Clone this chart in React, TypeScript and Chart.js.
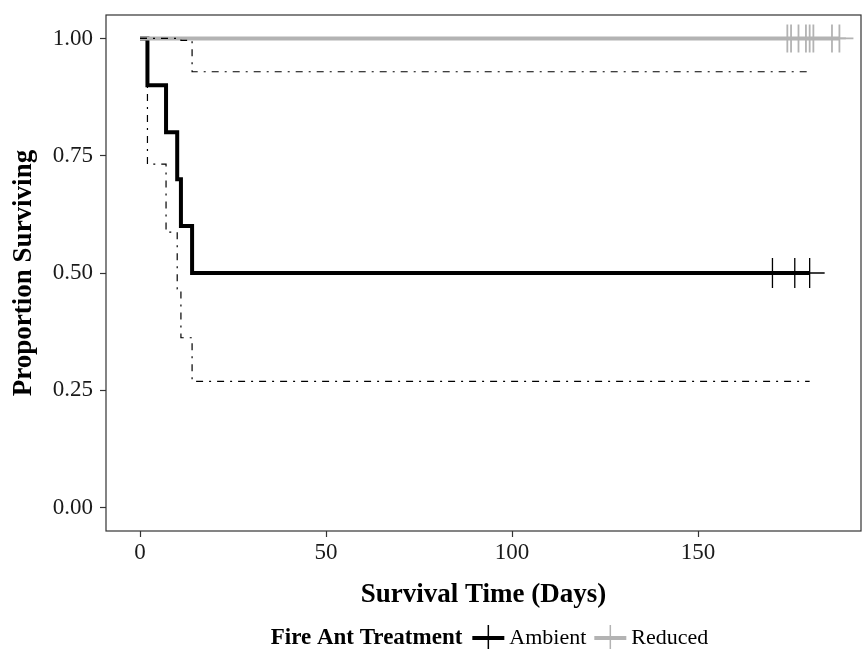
import React, { useEffect, useRef } from "react";
import { Chart, registerables } from "chart.js";

Chart.register(...registerables);

// ---- data ----
const xTicks = [0, 50, 100, 150];
const yTicks = [0, 0.25, 0.5, 0.75, 1];

const ambientTimes = [0, 2, 7, 10, 11, 14, 180];
const ambientSurv = [1, 0.9, 0.8, 0.7, 0.6, 0.5, 0.5];
const ambientUpper = [1, 1, 1, 1, 0.996, 0.929, 0.929];
const ambientLower = [1, 0.732, 0.587, 0.466, 0.362, 0.269, 0.269];
const ambientCensorTimes = [170, 176, 180];
const ambientCensorSurv = [0.5, 0.5, 0.5];

const reducedTimes = [0, 188];
const reducedSurv = [1, 1];
const reducedCensorTimes = [174, 175, 177, 179, 180, 181, 186, 188];
const reducedCensorSurv = [1, 1, 1, 1, 1, 1, 1, 1];

const legendTitle = "Fire Ant Treatment";
const groupNames = ["Ambient", "Reduced"];
const groupColors = ["#000000", "#b3b3b3"];

const SERIF = "'Liberation Serif', 'Times New Roman', Times, serif";

const pts = (xs: number[], ys: number[]) => xs.map((x, i) => ({ x, y: ys[i] }));

const framePlugin = {
  id: "frame",
  afterDraw(chart: any) {
    const { ctx, chartArea } = chart;
    const { left, top, right, bottom } = chartArea;
    ctx.save();
    ctx.strokeStyle = "#333333";
    ctx.lineWidth = 1.2;
    ctx.strokeRect(left, top, right - left, bottom - top);
    ctx.restore();
  },
};

const legendPlugin = {
  id: "customLegend",
  afterDraw(chart: any) {
    const { ctx } = chart;
    const cy = 638;
    const centerX = 489.5;
    ctx.save();
    ctx.textBaseline = "middle";
    ctx.textAlign = "left";
    const titleFont = `bold 23px ${SERIF}`;
    const labelFont = `22px ${SERIF}`;
    ctx.font = titleFont;
    const wTitle = ctx.measureText(legendTitle).width;
    ctx.font = labelFont;
    const wLabels = groupNames.map((n) => ctx.measureText(n).width);
    const keyW = 32;
    const gapTitle = 10;
    const gapKey = 5;
    const gapItem = 8;
    const total = wTitle + gapTitle + keyW + gapKey + wLabels[0] + gapItem + keyW + gapKey + wLabels[1];
    let x = centerX - total / 2;
    ctx.fillStyle = "#000";
    ctx.font = titleFont;
    ctx.fillText(legendTitle, x, cy);
    x += wTitle + gapTitle;
    groupNames.forEach((name, i) => {
      ctx.strokeStyle = groupColors[i];
      ctx.lineWidth = 4;
      ctx.beginPath();
      ctx.moveTo(x, cy);
      ctx.lineTo(x + keyW, cy);
      ctx.stroke();
      ctx.lineWidth = 1.5;
      ctx.beginPath();
      ctx.moveTo(x + keyW / 2, cy - 13);
      ctx.lineTo(x + keyW / 2, cy + 13);
      ctx.stroke();
      x += keyW + gapKey;
      ctx.font = labelFont;
      ctx.fillStyle = "#000";
      ctx.fillText(name, x, cy);
      x += wLabels[i] + gapItem;
    });
    ctx.restore();
  },
};

export default function App() {
  const canvasRef = useRef<HTMLCanvasElement | null>(null);

  useEffect(() => {
    const canvas = canvasRef.current;
    if (!canvas) return;
    const ciStyle = {
      type: "line" as const,
      borderColor: "#000000",
      borderWidth: 1.2,
      borderDash: [7, 6, 2, 6],
      stepped: "before" as const,
      pointRadius: 0,
      fill: false,
      order: 1,
    };
    const chart = new Chart(canvas, {
      type: "line",
      data: {
        datasets: [
          {
            type: "scatter",
            label: "Ambient censored",
            data: pts(ambientCensorTimes, ambientCensorSurv),
            pointStyle: "cross",
            pointRadius: 15,
            pointHoverRadius: 15,
            pointBorderColor: groupColors[0],
            pointBorderWidth: 1.3,
            showLine: false,
            order: 0,
          } as any,
          {
            type: "scatter",
            label: "Reduced censored",
            data: pts(reducedCensorTimes, reducedCensorSurv),
            pointStyle: "cross",
            pointRadius: 14,
            pointHoverRadius: 14,
            pointBorderColor: groupColors[1],
            pointBorderWidth: 1.8,
            showLine: false,
            order: 0,
          } as any,
          { ...ciStyle, label: "Upper CI", data: pts(ambientTimes, ambientUpper) } as any,
          { ...ciStyle, label: "Lower CI", data: pts(ambientTimes, ambientLower) } as any,
          {
            type: "line",
            label: groupNames[1],
            data: pts(reducedTimes, reducedSurv),
            borderColor: groupColors[1],
            borderWidth: 4,
            stepped: "before",
            pointRadius: 0,
            fill: false,
            order: 2,
          } as any,
          {
            type: "line",
            label: groupNames[0],
            data: pts(ambientTimes, ambientSurv),
            borderColor: groupColors[0],
            borderWidth: 4,
            stepped: "before",
            pointRadius: 0,
            fill: false,
            order: 3,
          } as any,
        ],
      },
      options: {
        responsive: false,
        animation: false,
        devicePixelRatio: 1,
        layout: { autoPadding: false, padding: { left: 0, top: 15, right: 1, bottom: 0 } },
        plugins: {
          legend: { display: false },
          tooltip: { enabled: false },
        },
        scales: {
          x: {
            type: "linear",
            min: -9.14,
            max: 193.8,
            afterFit: (scale: any) => {
              scale.height = 118;
              scale.paddingLeft = 0;
              scale.paddingRight = 0;
            },
            afterBuildTicks: (scale: any) => {
              scale.ticks = xTicks.map((v) => ({ value: v }));
            },
            border: { display: false },
            grid: {
              display: true,
              drawOnChartArea: false,
              drawTicks: true,
              tickLength: 6,
              tickColor: "#333333",
              tickWidth: 1.2,
            },
            ticks: {
              padding: 2,
              color: "#1a1a1a",
              font: { family: SERIF, size: 23 },
              maxRotation: 0,
              callback: (v: any) => String(v),
            },
            title: {
              display: true,
              text: "Survival Time (Days)",
              color: "#000",
              font: { family: SERIF, size: 27, weight: "bold" },
              padding: { top: 0, bottom: 38 },
            },
          },
          y: {
            type: "linear",
            min: -0.05,
            max: 1.05,
            afterFit: (scale: any) => {
              scale.width = 106;
              scale.paddingTop = 0;
              scale.paddingBottom = 0;
            },
            afterBuildTicks: (scale: any) => {
              scale.ticks = yTicks.map((v) => ({ value: v }));
            },
            border: { display: false },
            grid: {
              display: true,
              drawOnChartArea: false,
              drawTicks: true,
              tickLength: 6,
              tickColor: "#333333",
              tickWidth: 1.2,
            },
            ticks: {
              padding: 7,
              color: "#1a1a1a",
              font: { family: SERIF, size: 23 },
              callback: (v: any) => Number(v).toFixed(2),
            },
            title: {
              display: true,
              text: "Proportion Surviving",
              color: "#000",
              font: { family: SERIF, size: 27, weight: "bold" },
              padding: { top: 8, bottom: 0 },
            },
          },
        },
      },
      plugins: [framePlugin, legendPlugin],
    });
    return () => chart.destroy();
  }, []);

  return (
    <div style={{ position: "absolute", left: 0, top: 0, width: 862, height: 649, background: "#fff" }}>
      <canvas ref={canvasRef} width={862} height={649} style={{ width: 862, height: 649, display: "block" }} />
    </div>
  );
}
